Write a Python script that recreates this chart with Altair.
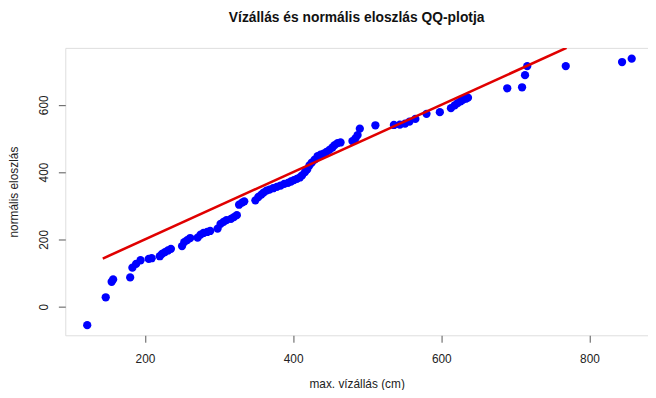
import altair as alt
import pandas as pd

# sorted observed water levels (x) and normal sample (y)
viz_x = [122, 147, 155, 157, 180, 183, 188, 194, 205, 209, 220, 223, 227, 231, 235,
         250, 253, 257, 261, 271, 275, 279, 284, 288, 298, 302, 306, 310, 316, 320,
         324, 327, 331, 334, 349, 353, 357, 360, 364, 368, 373, 378, 383, 388, 393,
         397, 401, 405, 409, 412, 416, 419, 422, 425, 429, 433, 437, 441, 445, 449,
         453, 456, 460, 464, 480, 484, 487, 490, 511, 536, 544, 551, 557, 565, 580,
         598, 613, 618, 622, 626, 629, 633, 636, 689, 709, 713, 716, 768, 844, 857]
norm_y = [-55, 28, 74, 81, 87, 116, 127, 138, 142, 144, 150, 157, 162, 167, 172,
          180, 192, 198, 204, 205, 214, 219, 222, 225, 232, 246, 252, 257, 261, 266,
          272, 303, 309, 313, 316, 326, 333, 339, 345, 348, 352, 356, 360, 365, 368,
          372, 376, 380, 384, 390, 400, 408, 420, 428, 437, 447, 452, 455, 460, 466,
          473, 480, 486, 488, 492, 500, 510, 529, 539, 540, 541, 544, 550, 558, 573,
          578, 590, 598, 605, 610, 615, 618, 621, 649, 652, 688, 715, 715, 727, 737]

line_x = [143, 769]
line_y = [143, 769]

x_ticks = [200, 400, 600, 800]
y_ticks = [0, 200, 400, 600]

pts = pd.DataFrame({"x": viz_x, "y": norm_y})
ln = pd.DataFrame({"x": line_x, "y": line_y})

xs = alt.Scale(domain=[92.4, 879], nice=False, zero=False)
ys = alt.Scale(domain=[-85, 769], nice=False, zero=False)

FONT = "Liberation Sans"

x_axis = alt.Axis(values=x_ticks, title="max. vízállás (cm)", grid=False, domain=False,
                  tickSize=7, tickColor="#555", labelPadding=12, labelFontSize=12,
                  labelColor="#222", titleFontSize=12, titleFontWeight="normal",
                  titleColor="#222", titlePadding=14, labelFont=FONT, titleFont=FONT)
y_axis = alt.Axis(values=y_ticks, title="normális eloszlás", grid=False, domain=False,
                  tickSize=7, tickColor="#555", labelAngle=270, labelAlign="center",
                  labelBaseline="bottom", labelPadding=8, labelFontSize=12,
                  labelColor="#222", titleFontSize=12, titleFontWeight="normal",
                  titleColor="#222", titlePadding=17, labelFont=FONT, titleFont=FONT)

points = alt.Chart(pts).mark_circle(size=70, color="#0000FF", opacity=1).encode(
    x=alt.X("x:Q", scale=xs, axis=x_axis),
    y=alt.Y("y:Q", scale=ys, axis=y_axis),
)
line = alt.Chart(ln).mark_line(color="#E00000", strokeWidth=2.6, clip=True).encode(
    x=alt.X("x:Q", scale=xs),
    y=alt.Y("y:Q", scale=ys),
)

chart = (
    alt.layer(points, line)
    .properties(
        width=590,
        height=291,
        autosize=alt.AutoSizeParams(type="none"),
        padding={"left": 58, "top": 38, "right": 0, "bottom": 53},
        title=alt.Title("Vízállás és normális eloszlás QQ-plotja", fontSize=14,
                        fontWeight="bold", font=FONT, color="#111", offset=23),
    )
    .configure_view(stroke="#555", strokeWidth=1)
    .configure(background="white")
)

chart.save("out.html", embed_options={"renderer": "svg", "actions": False})
